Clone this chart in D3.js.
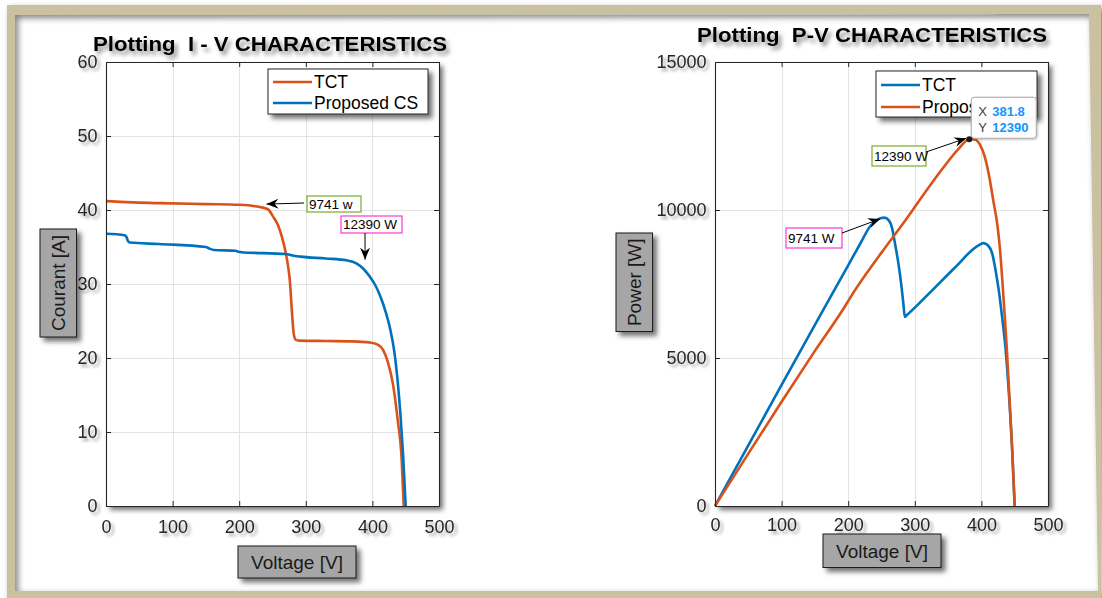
<!DOCTYPE html>
<html>
<head>
<meta charset="utf-8">
<script src="https://cdn.jsdelivr.net/npm/d3@7/dist/d3.min.js"></script>
<style>
  html, body { margin: 0; padding: 0; background: #ffffff; }
  svg { display: block; font-family: "Liberation Sans", Arial, Helvetica, sans-serif; }
  .pre { white-space: pre; }
</style>
</head>
<body>
<svg id="chart" width="1102" height="598"></svg>
<script>
// ---- I-V characteristics ----
const ivTctVoltage = [0, 50, 100, 150, 200, 231, 243, 251, 258, 264, 268, 271, 274, 276, 279, 282, 285, 290, 330, 370, 396, 408, 416, 423, 431, 438, 444, 447];
const ivTctCurrent = [41.2, 41.0, 40.9, 40.8, 40.7, 40.4, 40.1, 39.1, 38.0, 36.4, 35.0, 33.7, 32.0, 30.5, 26.5, 23.2, 22.45, 22.35, 22.3, 22.25, 22.1, 21.8, 21.1, 19.5, 16.4, 11.6, 6.2, 0];
const ivCsVoltage = [0, 28, 31, 33, 36, 80, 150, 155, 162, 195, 199, 203, 270, 280, 292, 330, 361, 376, 386, 396, 404, 412, 420, 427, 433, 438, 442, 446, 450];
const ivCsCurrent = [36.8, 36.6, 36.3, 35.8, 35.6, 35.4, 35.0, 34.8, 34.6, 34.5, 34.35, 34.3, 34.05, 33.85, 33.7, 33.45, 33.2, 32.8, 32.1, 31.0, 29.9, 28.3, 26.2, 23.8, 20.8, 16.8, 12.5, 7.0, 0];

// ---- P-V characteristics ----
const pvTctVoltage = [0, 50, 100, 150, 200, 218, 233, 245, 254, 261, 266, 270, 275, 280, 283, 285, 288, 320, 360, 395, 403, 410, 416, 421, 426, 431, 436, 441, 446, 450];
const pvTctPower = [0, 2050, 4090, 6120, 8130, 8860, 9450, 9690, 9741, 9650, 9380, 8900, 8250, 7420, 6800, 6390, 6450, 7150, 8050, 8800, 8880, 8800, 8550, 8000, 7300, 6400, 5380, 3900, 2000, 0];
const pvCsVoltage = [0, 50, 100, 150, 198, 202, 250, 290, 300, 340, 365, 381.8, 390, 398, 405, 412, 418, 424, 428, 433, 438, 442, 446, 450];
const pvCsPower = [0, 1770, 3520, 5240, 6850, 7000, 8560, 9780, 10100, 11350, 12050, 12390, 12380, 12200, 11800, 11100, 10300, 9500, 8650, 7100, 5380, 3700, 2000, 0];

// ---- axes ----
const voltageTicks = [0, 100, 200, 300, 400, 500];
const currentTicks = [0, 10, 20, 30, 40, 50, 60];
const powerTicks = [0, 5000, 10000, 15000];
const seriesNames = ["TCT", "Proposed CS"];

// ---- marked operating points ----
const tctPeakPower = 9741;
const csPeakPower = 12390;
const csPeakVoltage = 381.8;

const ORANGE = "#D95319";
const BLUE = "#0072BD";
const INK = "#262626";

const svg = d3.select("#chart");
const defs = svg.append("defs");

function dropShadow(id, dx, dy, sd, op) {
  const f = defs.append("filter").attr("id", id)
    .attr("x", "-30%").attr("y", "-30%").attr("width", "170%").attr("height", "170%");
  f.append("feDropShadow").attr("dx", dx).attr("dy", dy)
    .attr("stdDeviation", sd).attr("flood-color", "#000").attr("flood-opacity", op);
}
dropShadow("txtShadow", 3, 3, 1.8, 0.35);
dropShadow("titleShadow", 3, 4, 2.2, 0.45);
dropShadow("boxShadow", 4, 4, 2.5, 0.55);
dropShadow("frameShadow", 3, 3, 3, 0.5);
dropShadow("tipShadow", 1, 1, 1.2, 0.25);

// arrowhead for annotations
defs.append("marker").attr("id", "arrowHead")
  .attr("viewBox", "-12 -6 14 12").attr("markerWidth", 14).attr("markerHeight", 12)
  .attr("markerUnits", "userSpaceOnUse").attr("refX", 0).attr("refY", 0).attr("orient", "auto")
  .append("path").attr("d", "M0,0 L-12,-5 L-8,0 L-12,5 Z").attr("fill", "#000");

// ---- page frame ----
svg.append("rect").attr("width", 1102).attr("height", 598).attr("fill", "#ffffff");
svg.append("path")
  .attr("d", "M7,5 H1101 V598 H7 Z M15,15 L1089,14 L1098,591 L15,591 Z")
  .attr("fill", "#c9c19f").attr("fill-rule", "evenodd")
  .attr("filter", "url(#frameShadow)");

const TOP = 62, BOTTOM = 506;

function drawPanel(o) {
  const x = d3.scaleLinear().domain([0, 500]).range([o.left, o.right]);
  const y = d3.scaleLinear().domain(o.yDomain).range([BOTTOM, TOP]);
  const g = svg.append("g");

  // plot background with box shadow
  g.append("rect").attr("x", o.left).attr("y", TOP)
    .attr("width", o.right - o.left).attr("height", BOTTOM - TOP)
    .attr("fill", "#ffffff").attr("filter", "url(#boxShadow)");

  // grid
  const grid = g.append("g").attr("stroke", "#e3e3e3").attr("stroke-width", 1);
  voltageTicks.forEach(v => grid.append("line")
    .attr("x1", Math.round(x(v)) + 0.5).attr("x2", Math.round(x(v)) + 0.5)
    .attr("y1", TOP).attr("y2", BOTTOM));
  o.yTicks.forEach(t => grid.append("line")
    .attr("y1", Math.round(y(t)) + 0.5).attr("y2", Math.round(y(t)) + 0.5)
    .attr("x1", o.left).attr("x2", o.right));

  // curves
  const line = d3.line().x(d => x(d[0])).y(d => y(d[1])).curve(d3.curveMonotoneX);
  o.series.forEach(s => {
    g.append("path").datum(d3.zip(s.xs, s.ys))
      .attr("d", line).attr("fill", "none")
      .attr("stroke", s.color).attr("stroke-width", 2.6)
      .attr("stroke-linejoin", "round");
  });

  // axes (ticks inside, box on all sides)
  const styleAxis = sel => {
    sel.selectAll("path.domain").attr("stroke", INK).attr("stroke-width", 1.1);
    sel.selectAll(".tick line").attr("stroke", INK);
    sel.selectAll(".tick text").attr("fill", INK).attr("font-size", 18)
      .attr("font-family", "'Liberation Sans', Arial, sans-serif")
      .attr("filter", "url(#txtShadow)");
  };
  g.append("g").attr("transform", `translate(0,${BOTTOM})`)
    .call(d3.axisBottom(x).tickValues(voltageTicks).tickFormat(d3.format("d"))
      .tickSizeInner(-5).tickSizeOuter(0).tickPadding(o.xPad))
    .call(styleAxis);
  g.append("g").attr("transform", `translate(0,${TOP})`)
    .call(d3.axisTop(x).tickValues(voltageTicks).tickFormat("")
      .tickSizeInner(-5).tickSizeOuter(0))
    .call(styleAxis);
  g.append("g").attr("transform", `translate(${o.left},0)`)
    .call(d3.axisLeft(y).tickValues(o.yTicks).tickFormat(d3.format("d"))
      .tickSizeInner(-5).tickSizeOuter(0).tickPadding(8.5))
    .call(styleAxis);
  g.append("g").attr("transform", `translate(${o.right},0)`)
    .call(d3.axisRight(y).tickValues(o.yTicks).tickFormat("")
      .tickSizeInner(-5).tickSizeOuter(0))
    .call(styleAxis);
  g.selectAll(".domain").attr("fill", "none");

  // title
  g.append("text").attr("class", "pre").attr("x", o.title.x).attr("y", o.title.y)
    .attr("text-anchor", "middle").attr("font-weight", "bold")
    .attr("font-size", 19.5).attr("fill", "#000")
    .attr("textLength", o.title.w).attr("lengthAdjust", "spacingAndGlyphs")
    .attr("filter", "url(#titleShadow)")
    .text(o.title.text);

  // axis label boxes
  const labelBox = (b, text, rotate) => {
    const lg = g.append("g");
    lg.append("rect").attr("x", b.x).attr("y", b.y).attr("width", b.w).attr("height", b.h)
      .attr("fill", "#a6a6a6").attr("stroke", "#1a1a1a").attr("stroke-width", 1)
      .attr("filter", "url(#boxShadow)");
    const cx = b.x + b.w / 2, cy = b.y + b.h / 2;
    lg.append("text")
      .attr("transform", rotate ? `translate(${cx},${cy}) rotate(-90)` : `translate(${cx},${cy})`)
      .attr("text-anchor", "middle").attr("dy", "0.36em")
      .attr("font-size", 19).attr("fill", "#1a1a1a").text(text);
  };
  labelBox(o.yLabel.box, o.yLabel.text, true);
  labelBox(o.xLabel.box, o.xLabel.text, false);

  // legend
  const L = o.legend;
  const lg = g.append("g");
  lg.append("rect").attr("x", L.x).attr("y", L.y).attr("width", L.w).attr("height", L.h)
    .attr("fill", "#ffffff").attr("stroke", INK).attr("stroke-width", 1)
    .attr("filter", "url(#boxShadow)");
  let clip = null;
  if (L.clipRight) {
    clip = "legendClip" + o.left;
    defs.append("clipPath").attr("id", clip).append("rect")
      .attr("x", L.x).attr("y", L.y).attr("width", L.clipRight - L.x).attr("height", L.h);
  }
  o.series.forEach((s, i) => {
    const ry = L.rows[i];
    lg.append("line").attr("x1", L.x + 5).attr("x2", L.x + 44)
      .attr("y1", ry).attr("y2", ry).attr("stroke", s.color).attr("stroke-width", 2.6);
    const t = lg.append("text").attr("x", L.x + 46).attr("y", ry).attr("dy", "0.36em")
      .attr("font-size", 17.5).attr("fill", "#000").text(s.name);
    if (clip) t.attr("clip-path", `url(#${clip})`);
  });

  return { g, x, y };
}

// annotation: bordered text box with an arrow
function annotate(g, a) {
  g.append("rect").attr("x", a.box[0]).attr("y", a.box[1]).attr("width", a.box[2]).attr("height", a.box[3])
    .attr("fill", "#ffffff").attr("stroke", a.color).attr("stroke-width", 1.2);
  g.append("text").attr("x", a.box[0] + 2).attr("y", a.box[1] + a.box[3] / 2).attr("dy", "0.36em")
    .attr("font-size", 13.5).attr("fill", "#000").text(a.text);
  g.append("line").attr("x1", a.from[0]).attr("y1", a.from[1]).attr("x2", a.to[0]).attr("y2", a.to[1])
    .attr("stroke", "#000").attr("stroke-width", 1).attr("marker-end", "url(#arrowHead)");
}

// ---- left panel: current vs voltage ----
const iv = drawPanel({
  left: 106, right: 439, yDomain: [0, 60], yTicks: currentTicks, xPad: 14.5,
  title: { x: 270, y: 51, w: 354, text: "Plotting  I - V CHARACTERISTICS" },
  yLabel: { text: "Courant [A]", box: { x: 40, y: 229, w: 36.5, h: 108 } },
  xLabel: { text: "Voltage [V]", box: { x: 238, y: 546, w: 118, h: 32 } },
  legend: { x: 268, y: 69, w: 160, h: 45, rows: [82, 103] },
  series: [
    { name: seriesNames[0], xs: ivTctVoltage, ys: ivTctCurrent, color: ORANGE },
    { name: seriesNames[1], xs: ivCsVoltage, ys: ivCsCurrent, color: BLUE }
  ]
});
annotate(iv.g, { text: tctPeakPower + " w", color: "#77AC30",
  box: [307, 196, 54, 16], from: [304, 203], to: [iv.x(241), iv.y(40.8)] });
annotate(iv.g, { text: csPeakPower + " W", color: "#ff38d2",
  box: [341, 216, 61, 17], from: [365, 233], to: [iv.x(389), iv.y(33.3)] });

// ---- right panel: power vs voltage ----
const pvX0 = 715, pvX1 = 1048;
const tipLeft = pvX0 + (pvX1 - pvX0) * csPeakVoltage / 500 + 2;
const pv = drawPanel({
  left: pvX0, right: pvX1, yDomain: [0, 15000], yTicks: powerTicks, xPad: 12.5,
  title: { x: 872, y: 42, w: 350, text: "Plotting  P-V CHARACTERISTICS" },
  yLabel: { text: "Power [W]", box: { x: 616, y: 233, w: 36.5, h: 98.5 } },
  xLabel: { text: "Voltage [V]", box: { x: 823, y: 534, w: 118, h: 33.5 } },
  legend: { x: 876, y: 71, w: 161, h: 46, rows: [85, 107], clipRight: tipLeft },
  series: [
    { name: seriesNames[0], xs: pvTctVoltage, ys: pvTctPower, color: BLUE },
    { name: seriesNames[1], xs: pvCsVoltage, ys: pvCsPower, color: ORANGE }
  ]
});
annotate(pv.g, { text: csPeakPower + " W", color: "#77AC30",
  box: [872, 146, 54, 20], from: [926, 152], to: [pv.x(csPeakVoltage) - 3, pv.y(csPeakPower) - 1] });
annotate(pv.g, { text: tctPeakPower + " W", color: "#ff38d2",
  box: [786, 228, 56, 20], from: [842, 233], to: [pv.x(248), pv.y(9700)] });

// data tip on the Proposed CS maximum power point
const tipX = pv.x(csPeakVoltage), tipY = pv.y(csPeakPower);
const tip = pv.g.append("g");
tip.append("rect").attr("x", tipX + 2).attr("y", tipY - 42).attr("width", 65).attr("height", 41)
  .attr("rx", 3).attr("fill", "#ffffff").attr("fill-opacity", 0.96)
  .attr("stroke", "#a8a8a8").attr("stroke-width", 1).attr("filter", "url(#tipShadow)");
[["X", csPeakVoltage.toFixed(1), -23], ["Y", String(csPeakPower), -7]].forEach(([k, v, dy]) => {
  tip.append("text").attr("x", tipX + 9).attr("y", tipY + dy)
    .attr("font-size", 13).attr("fill", "#404040").text(k);
  tip.append("text").attr("x", tipX + 23).attr("y", tipY + dy)
    .attr("font-size", 13).attr("font-weight", "bold").attr("fill", "#0f97ff").text(v);
});
tip.append("circle").attr("cx", tipX).attr("cy", tipY).attr("r", 3).attr("fill", "#1a1a1a");
</script>
</body>
</html>
